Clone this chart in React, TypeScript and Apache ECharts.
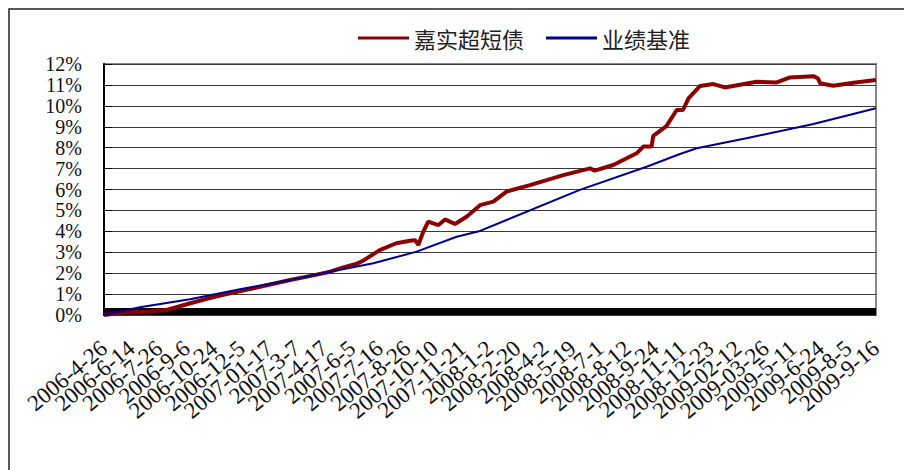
import React, { useEffect, useRef } from "react";
import * as echarts from "echarts";

const dateLabels = [
  "2006-4-26", "2006-6-14", "2006-7-26", "2006-9-6", "2006-10-24", "2006-12-5",
  "2007-01-17", "2007-3-7", "2007-4-17", "2007-6-5", "2007-7-16", "2007-8-26",
  "2007-10-10", "2007-11-21", "2008-1-2", "2008-2-20", "2008-4-2", "2008-5-19",
  "2008-7-1", "2008-8-12", "2008-9-24", "2008-11-11", "2008-12-23", "2009-02-12",
  "2009-03-26", "2009-5-11", "2009-6-24", "2009-8-5", "2009-9-16",
];

const seriesNames = ["嘉实超短债", "业绩基准"];

// position along the date axis (index of tick label), value in %
const fundX = [
  0, 0.7, 1.5, 2.27, 3.1, 3.8, 4.33, 5.5, 6.75, 7.5, 8.2, 8.68, 9.17, 9.4, 10.0,
  10.6, 11.1, 11.28, 11.4, 11.58, 11.76, 12.13, 12.37, 12.73, 13.15, 13.64, 14.12,
  14.6, 15.45, 16.66, 17.63, 17.8, 18.47, 19.32, 19.56, 19.86, 19.92, 20.4, 20.77,
  21.0, 21.2, 21.62, 22.1, 22.52, 23.67, 24.4, 24.88, 25.73, 25.9, 25.97, 26.45,
  27.18, 28,
];
const fundY = [
  0, 0.12, 0.15, 0.24, 0.55, 0.8, 0.96, 1.3, 1.67, 1.87, 2.07, 2.28, 2.45, 2.6, 3.1,
  3.43, 3.55, 3.58, 3.35, 3.98, 4.46, 4.3, 4.57, 4.35, 4.7, 5.25, 5.42,
  5.9, 6.21, 6.69, 7.01, 6.9, 7.17, 7.73, 8.05, 8.05, 8.56, 9.03, 9.8,
  9.8, 10.36, 10.95, 11.04, 10.88, 11.15, 11.12, 11.36, 11.42, 11.31, 11.08, 10.96,
  11.1, 11.23,
];

const benchX = [0, 1.3, 3.12, 4.93, 6.75, 8.2, 9.77, 11.34, 12.79, 13.64, 14.6, 17.26, 19.68, 20.89, 21.5, 23.3, 25.73, 28];
const benchY = [0, 0.37, 0.75, 1.23, 1.67, 2.07, 2.47, 3.03, 3.74, 4.02, 4.54, 5.98, 7.09, 7.7, 7.97, 8.45, 9.13, 9.88];

const bandTop = 0.34;

export default function App() {
  const ref = useRef<HTMLDivElement>(null);
  useEffect(() => {
    document.body.style.margin = "0";
    const chart = echarts.init(ref.current!, null, { renderer: "svg" });
    const fundData = fundX.map((x, i) => [x, fundY[i]]);
    const benchData = benchX.map((x, i) => [x, benchY[i]]);
    chart.setOption({
      animation: false,
      backgroundColor: "#fff",
      graphic: [
        {
          type: "polyline",
          shape: { points: [[9, 470], [9, 9], [904, 9]] },
          style: { stroke: "#222", lineWidth: 1.5, fill: "none" },
        },
      ],
      legend: {
        left: 353,
        top: 22,
        icon: "rect",
        itemWidth: 51,
        itemHeight: 3,
        itemGap: 22,
        textStyle: { fontFamily: "Noto Sans CJK SC", fontSize: 22, color: "#222" },
        data: seriesNames,
      },
      grid: { left: 104, top: 64, right: 28, bottom: 155, show: true, borderColor: "#888", borderWidth: 2 },
      xAxis: [
        {
          type: "value",
          min: 0,
          max: dateLabels.length - 1,
          interval: 1,
          axisLine: { show: false },
          axisTick: { show: false },
          splitLine: { show: false },
          axisLabel: { show: false },
        },
        {
          type: "category",
          data: dateLabels,
          boundaryGap: false,
          position: "bottom",
          axisLine: { show: false },
          axisTick: { show: false },
          splitLine: { show: false },
          axisLabel: {
            interval: 0,
            rotate: 40,
            margin: 30,
            fontFamily: "Liberation Serif",
            fontSize: 23,
            color: "#111",
          },
        },
      ],
      yAxis: {
        type: "value",
        min: 0,
        max: 12,
        interval: 1,
        axisLine: { show: true, lineStyle: { color: "#000", width: 2 } },
        axisTick: { show: true, inside: true, length: 8, lineStyle: { color: "#000" } },
        splitLine: { show: true, lineStyle: { color: "#3a3a3a", width: 1 } },
        axisLabel: {
          formatter: "{value}%",
          margin: 22,
          fontFamily: "Liberation Serif",
          fontSize: 20,
          color: "#111",
        },
      },
      series: [
        {
          name: seriesNames[0],
          type: "line",
          xAxisIndex: 0,
          data: fundData,
          showSymbol: false,
          lineStyle: { color: "#8B0000", width: 4 },
          itemStyle: { color: "#8B0000" },
          markArea: {
            silent: true,
            itemStyle: { color: "#000" },
            data: [[{ yAxis: 0 }, { yAxis: bandTop }]],
          },
          z: 3,
        },
        {
          name: seriesNames[1],
          type: "line",
          xAxisIndex: 0,
          data: benchData,
          showSymbol: false,
          lineStyle: { color: "#00008E", width: 2 },
          itemStyle: { color: "#00008E" },
          z: 4,
        },
      ],
    });
    return () => chart.dispose();
  }, []);
  return <div ref={ref} style={{ width: 904, height: 470 }} />;
}
